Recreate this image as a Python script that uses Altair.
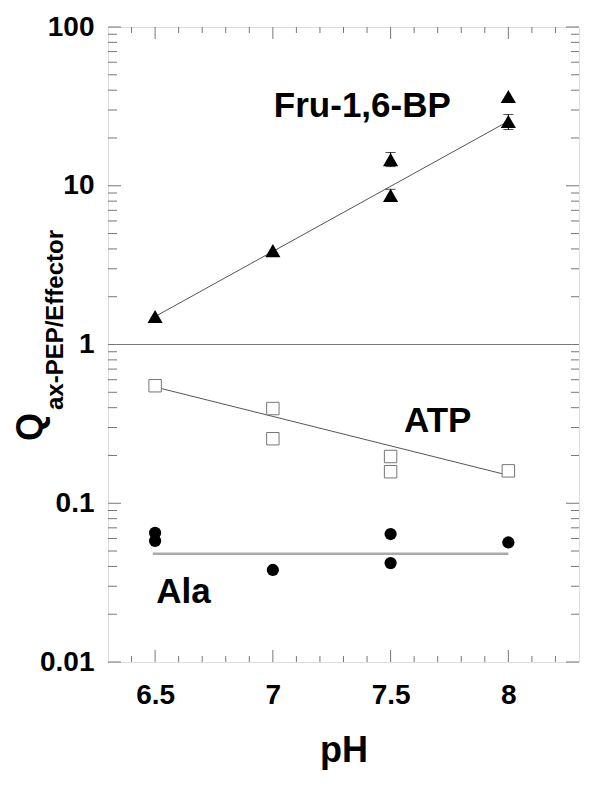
import altair as alt
import pandas as pd

# ---- data ----
fru_ph = [6.5, 7.0, 7.5, 7.5, 8.0, 8.0]
fru_q = [1.5, 3.9, 14.6, 8.7, 36.5, 25.4]
fru_fit_ph = [6.5, 8.0]
fru_fit_q = [1.5, 25.5]

atp_ph = [6.5, 7.0, 7.0, 7.5, 7.5, 8.0]
atp_q = [0.55, 0.395, 0.255, 0.197, 0.158, 0.16]
atp_fit_ph = [6.5, 8.0]
atp_fit_q = [0.54, 0.15]

ala_ph = [6.5, 6.5, 7.0, 7.5, 7.5, 8.0]
ala_q = [0.065, 0.058, 0.038, 0.064, 0.042, 0.0566]
ala_fit_ph = [6.49, 8.0]
ala_fit_q = [0.048, 0.048]

err_ph = [7.5, 7.5, 8.0]
err_lo = [13.2, 8.0, 22.6]
err_hi = [16.2, 9.5, 28.1]

labels = ["Fru-1,6-BP", "ATP", "Ala"]
label_ph = [7.38, 7.70, 6.62]
label_q = [31.6, 0.332, 0.0278]

x_major = [6.5, 7.0, 7.5, 8.0]
x_minor = [6.4, 6.6, 6.7, 6.8, 6.9, 7.1, 7.2, 7.3, 7.4, 7.6, 7.7, 7.8, 7.9, 8.1, 8.2]
y_major = [0.01, 0.1, 1, 10, 100]
decades = [0.01, 0.1, 1, 10]
mults = [2, 3, 4, 5, 6, 7, 8, 9]
y_minor = [d * m for d in decades for m in mults]

W, H = 471, 635
FONT = "Liberation Sans"

xs = alt.Scale(domain=[6.3, 8.3], nice=False, zero=False)
ys = alt.Scale(type="log", domain=[0.01, 100], nice=False)

xaxis = alt.Axis(values=x_major, format="~g", ticks=False, domain=False, grid=False,
                 labelFont=FONT, labelFontWeight="bold", labelFontSize=28, labelColor="black",
                 labelPadding=19, title="pH", titleFont=FONT, titleFontWeight="bold",
                 titleFontSize=36, titleColor="black", titlePadding=24)
yaxis = alt.Axis(values=y_major, format="~g", ticks=False, domain=False, grid=False,
                 labelFont=FONT, labelFontWeight="bold", labelFontSize=28, labelColor="black",
                 labelPadding=14, title=None)


def X(f):
    return alt.X(f, type="quantitative", scale=xs, axis=xaxis)


def Y(f):
    return alt.Y(f, type="quantitative", scale=ys, axis=yaxis)


fru = pd.DataFrame({"pH": fru_ph, "q": fru_q})
fru_fit = pd.DataFrame({"pH": fru_fit_ph, "q": fru_fit_q})
atp = pd.DataFrame({"pH": atp_ph, "q": atp_q})
atp_fit = pd.DataFrame({"pH": atp_fit_ph, "q": atp_fit_q})
ala = pd.DataFrame({"pH": ala_ph, "q": ala_q})
ala_fit = pd.DataFrame({"pH": ala_fit_ph, "q": ala_fit_q})
err = pd.DataFrame({"pH": err_ph, "lo": err_lo, "hi": err_hi})
lab = pd.DataFrame({"t": labels, "pH": label_ph, "q": label_q})

one_line = alt.Chart(pd.DataFrame({"q": [1]})).mark_rule(color="#777", strokeWidth=1).encode(y=Y("q"))

fru_line = alt.Chart(fru_fit).mark_line(color="#555", strokeWidth=1).encode(x=X("pH"), y=Y("q"))
atp_line = alt.Chart(atp_fit).mark_line(color="#555", strokeWidth=1).encode(x=X("pH"), y=Y("q"))
ala_line = alt.Chart(ala_fit).mark_line(color="#aaa", strokeWidth=2.5).encode(x=X("pH"), y=Y("q"))

err_rule = alt.Chart(err).mark_rule(color="black", strokeWidth=1).encode(x=X("pH"), y=Y("lo"), y2="hi")
err_cap_lo = alt.Chart(err).mark_point(shape="stroke", size=100, color="black", strokeWidth=1).encode(x=X("pH"), y=Y("lo"))
err_cap_hi = alt.Chart(err).mark_point(shape="stroke", size=100, color="black", strokeWidth=1).encode(x=X("pH"), y=Y("hi"))

fru_pts = alt.Chart(fru).mark_point(shape="triangle-up", size=230, filled=True, color="black", opacity=1).encode(x=X("pH"), y=Y("q"))
atp_pts = alt.Chart(atp).mark_point(shape="square", size=155, filled=True, fill="white", stroke="#777", strokeWidth=1, opacity=1).encode(x=X("pH"), y=Y("q"))
ala_pts = alt.Chart(ala).mark_point(shape="circle", size=150, filled=True, color="black", opacity=1).encode(x=X("pH"), y=Y("q"))

texts = alt.Chart(lab).mark_text(font=FONT, fontWeight="bold", fontSize=35, color="black",
                                 align="center", baseline="middle").encode(x=X("pH"), y=Y("q"), text="t:N")

# inward ticks on all four sides
xmaj = pd.DataFrame({"v": x_major})
xmin = pd.DataFrame({"v": x_minor})
ymaj = pd.DataFrame({"v": y_major})
ymin = pd.DataFrame({"v": y_minor})
tc = "#777"
tick_layers = [
    alt.Chart(xmaj).mark_rule(color=tc).encode(x=X("v"), y=alt.value(H), y2=alt.value(H - 12)),
    alt.Chart(xmin).mark_rule(color=tc).encode(x=X("v"), y=alt.value(H), y2=alt.value(H - 6)),
    alt.Chart(xmaj).mark_rule(color=tc).encode(x=X("v"), y=alt.value(0), y2=alt.value(12)),
    alt.Chart(xmin).mark_rule(color=tc).encode(x=X("v"), y=alt.value(0), y2=alt.value(6)),
    alt.Chart(ymaj).mark_rule(color=tc).encode(y=Y("v"), x=alt.value(0), x2=alt.value(13)),
    alt.Chart(ymin).mark_rule(color=tc).encode(y=Y("v"), x=alt.value(0), x2=alt.value(9)),
    alt.Chart(ymaj).mark_rule(color=tc).encode(y=Y("v"), x=alt.value(W), x2=alt.value(W - 13)),
    alt.Chart(ymin).mark_rule(color=tc).encode(y=Y("v"), x=alt.value(W), x2=alt.value(W - 8)),
]

q_title = alt.Chart(pd.DataFrame({"t": ["Q"]})).mark_text(
    font=FONT, fontWeight="bold", fontSize=36, color="black", angle=270,
    align="center", baseline="middle").encode(x=alt.value(-77), y=alt.value(400), text="t:N")
sub_title = alt.Chart(pd.DataFrame({"t": ["ax-PEP/Effector"]})).mark_text(
    font=FONT, fontWeight="bold", fontSize=24, color="black", angle=270,
    align="center", baseline="middle").encode(x=alt.value(-52), y=alt.value(293), text="t:N")

chart = alt.layer(
    one_line, fru_line, atp_line, ala_line, err_rule, err_cap_lo, err_cap_hi,
    fru_pts, atp_pts, ala_pts, texts, *tick_layers, q_title, sub_title
).properties(
    width=W, height=H,
    autosize=alt.AutoSizeParams(type="none"),
    padding={"left": 100, "top": 19, "right": 17, "bottom": 110},
).configure_view(stroke="#777", strokeWidth=1).configure(background="white")

chart.save("out.html", embed_options={"renderer": "svg", "actions": False})
